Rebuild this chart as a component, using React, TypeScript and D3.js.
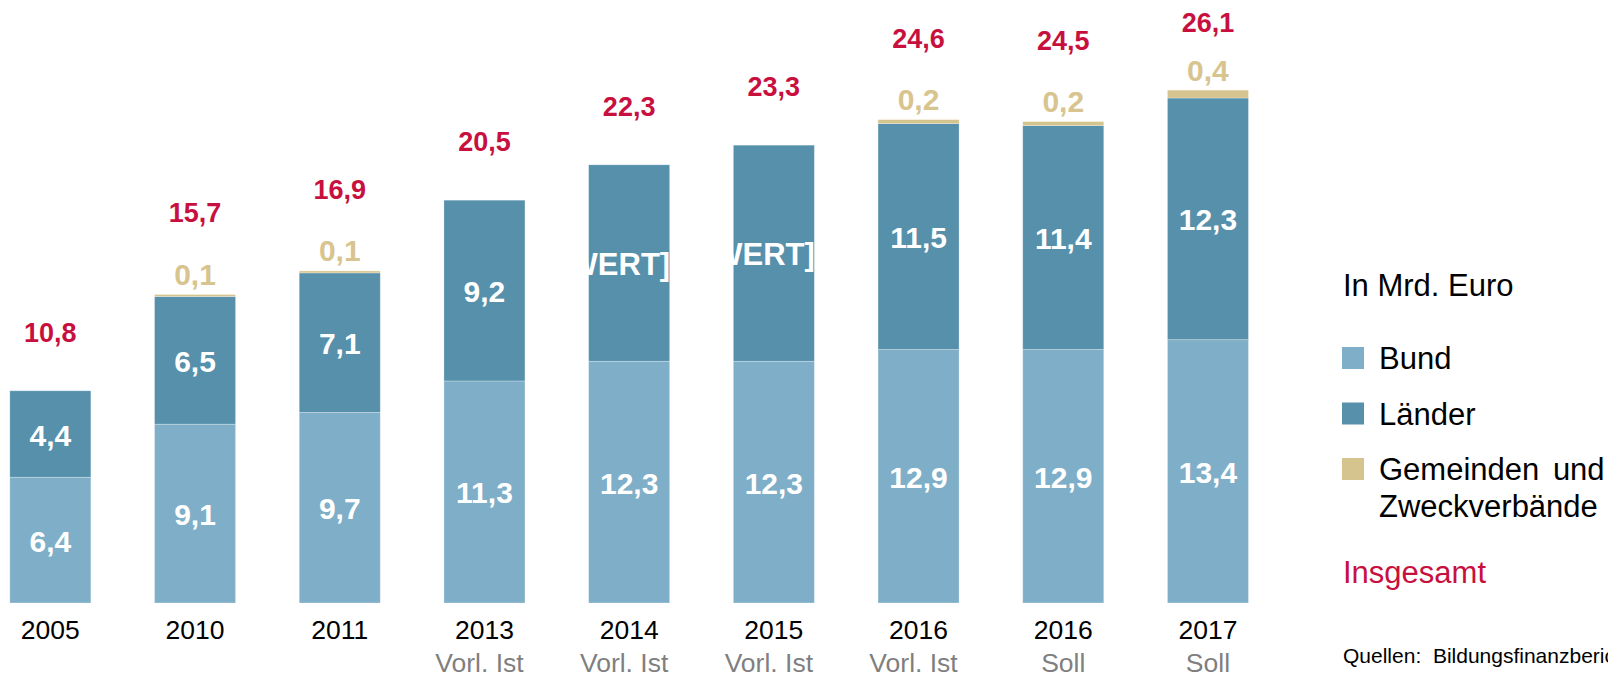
import React from "react";
import * as d3 from "d3";

// ---- data ----
const years = ["2005", "2010", "2011", "2013", "2014", "2015", "2016", "2016", "2017"];
const subLabels = ["", "", "", "Vorl. Ist", "Vorl. Ist", "Vorl. Ist", "Vorl. Ist", "Soll", "Soll"];
const bund = [6.4, 9.1, 9.7, 11.3, 12.3, 12.3, 12.9, 12.9, 13.4];
const laender = [4.4, 6.5, 7.1, 9.2, 10.0, 11.0, 11.5, 11.4, 12.3];
const gemeinden = [0, 0.1, 0.1, 0, 0, 0, 0.2, 0.2, 0.4];
const totals = [10.8, 15.7, 16.9, 20.5, 22.3, 23.3, 24.6, 24.5, 26.1];
const laenderLabelOverride: (string | null)[] = [null, null, null, null, "[WERT]", "[WERT]", null, null, null];

const seriesKeys = ["bund", "laender", "gemeinden"];
const seriesNames = ["Bund", "Länder", "Gemeinden und"];
const colors: Record<string, string> = {
  bund: "#7FAFC8",
  laender: "#5690AB",
  gemeinden: "#D6C48E",
};
const RED = "#C8103F";
const TAN = "#D8C48E";
const GRAY = "#7F7F7F";
const FONT = "'Liberation Sans', Arial, Helvetica, sans-serif";

const W = 1608;
const H = 678;

const fmt = (v: number) => v.toFixed(1).replace(".", ",");

export default function App() {
  const rows = years.map((y, i) => ({
    idx: i,
    year: y,
    bund: bund[i],
    laender: laender[i],
    gemeinden: gemeinden[i],
  }));

  const x = d3
    .scaleBand<number>()
    .domain(rows.map((r) => r.idx))
    .range([-22, -22 + 144.7 * rows.length])
    .paddingInner(0.44)
    .paddingOuter(0.22);

  const y = d3.scaleLinear().domain([0, 30]).range([603, 603 - 30 * 19.65]);

  const stack = d3.stack<any>().keys(seriesKeys);
  const stacked = stack(rows);
  const bw = x.bandwidth();

  return (
    <svg
      width={W}
      height={H}
      style={{ position: "absolute", left: 0, top: 0, background: "#fff" }}
      fontFamily={FONT}
    >
      {/* bars */}
      {stacked.map((layer) => (
        <g key={layer.key} fill={colors[layer.key]}>
          {layer.map((d, i) => {
            const v = d[1] - d[0];
            if (v <= 0) return null;
            return (
              <rect
                key={i}
                x={x(i)}
                y={y(d[1])}
                width={bw}
                height={y(d[0]) - y(d[1])}
                stroke="#ffffff"
                strokeOpacity={0.35}
                strokeWidth={0.8}
              />
            );
          })}
        </g>
      ))}

      {/* segment labels */}
      {stacked.slice(0, 2).map((layer) => (
        <g key={"lab-" + layer.key}>
          {layer.map((d, i) => {
            const mid = (y(d[0]) + y(d[1])) / 2;
            const cx = (x(i) as number) + bw / 2;
            const override = layer.key === "laender" ? laenderLabelOverride[i] : null;
            if (override) {
              return (
                <text
                  key={i}
                  x={cx + 41}
                  y={mid + 11.5}
                  textAnchor="end"
                  fill="#fff"
                  fontWeight="bold"
                  fontSize={31}
                >
                  {override}
                </text>
              );
            }
            return (
              <text
                key={i}
                x={cx}
                y={mid + 11.5}
                textAnchor="middle"
                fill="#fff"
                fontWeight="bold"
                fontSize={30}
              >
                {fmt(d[1] - d[0])}
              </text>
            );
          })}
        </g>
      ))}

      {/* gemeinden labels */}
      {rows.map((r, i) =>
        r.gemeinden > 0 ? (
          <text
            key={"g" + i}
            x={(x(i) as number) + bw / 2}
            y={y(totals[i]) - 9.5}
            textAnchor="middle"
            fill={TAN}
            fontWeight="bold"
            fontSize={30}
          >
            {fmt(r.gemeinden)}
          </text>
        ) : null
      )}

      {/* totals */}
      {rows.map((r, i) => (
        <text
          key={"t" + i}
          x={(x(i) as number) + bw / 2}
          y={Math.max(32, y(totals[i]) - (r.gemeinden > 0 ? 72 : 49))}
          textAnchor="middle"
          fill={RED}
          fontWeight="bold"
          fontSize={27}
        >
          {fmt(totals[i])}
        </text>
      ))}

      {/* x axis labels */}
      {rows.map((r, i) => (
        <g key={"x" + i}>
          <text
            x={(x(i) as number) + bw / 2}
            y={639}
            textAnchor="middle"
            fill="#000"
            fontSize={26.5}
          >
            {r.year}
          </text>
          {subLabels[i] ? (
            <text
              x={(x(i) as number) + bw / 2 - (subLabels[i] === "Vorl. Ist" ? 5 : 0)}
              y={672}
              textAnchor="middle"
              fill={GRAY}
              fontSize={26.5}
            >
              {subLabels[i]}
            </text>
          ) : null}
        </g>
      ))}

      {/* legend */}
      <text x={1343} y={296} fontSize={31} fill="#000">
        In Mrd. Euro
      </text>
      {seriesKeys.map((k, i) => {
        const top = 347 + i * 55.5;
        return (
          <g key={"leg" + k}>
            <rect x={1342} y={top} width={22} height={22} fill={colors[k]} />
            <text
              x={1379}
              y={top + 22}
              fontSize={31}
              fill="#000"
              wordSpacing={k === "gemeinden" ? 5 : 0}
            >
              {seriesNames[i]}
            </text>
          </g>
        );
      })}
      <text x={1379} y={517} fontSize={31} fill="#000">
        Zweckverbände
      </text>
      <text x={1343} y={583} fontSize={31} fill={RED}>
        Insgesamt
      </text>
      <text x={1343} y={663} fontSize={21} fill="#000" style={{ whiteSpace: "pre" }}>
        {"Quellen:  Bildungsfinanzbericht"}
      </text>
    </svg>
  );
}
